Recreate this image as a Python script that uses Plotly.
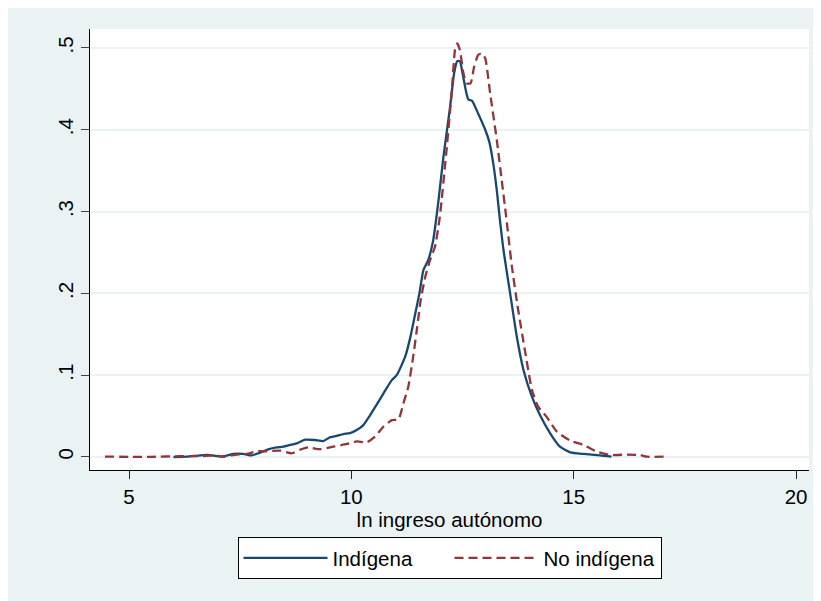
import plotly.graph_objects as go

# Kernel density estimates
x_ind = [6.0, 6.3, 6.67, 6.82, 7.08, 7.35, 7.57, 7.76, 7.95, 8.13, 8.32, 8.47, 8.62, 8.77, 8.96,
         9.18, 9.37, 9.50, 9.67, 9.82, 9.97, 10.12, 10.27, 10.42, 10.61, 10.79, 10.91, 11.02,
         11.21, 11.32, 11.43, 11.53, 11.62, 11.73, 11.84, 11.90, 11.96, 12.07, 12.22, 12.31,
         12.38, 12.44, 12.50, 12.58, 12.63, 12.71, 12.85, 13.01, 13.10, 13.19, 13.27, 13.34,
         13.42, 13.57, 13.72, 13.87, 14.06, 14.24, 14.47, 14.69, 14.92, 15.22, 15.59, 15.85]
y_ind = [0.0, 0.0005, 0.0024, 0.0024, 0.0004, 0.0037, 0.0037, 0.002, 0.0053, 0.0094, 0.0118,
         0.0126, 0.0147, 0.0167, 0.0212, 0.0208, 0.0195, 0.0235, 0.0257, 0.0281, 0.0293, 0.033,
         0.039, 0.051, 0.0676, 0.084, 0.094, 0.100, 0.1226, 0.145, 0.1736, 0.200, 0.2286, 0.241,
         0.265, 0.288, 0.314, 0.367, 0.428, 0.469, 0.484, 0.484, 0.469, 0.4466, 0.437, 0.4356,
         0.420, 0.400, 0.3855, 0.359, 0.326, 0.29, 0.253, 0.200, 0.147, 0.1064, 0.0737, 0.0513,
         0.029, 0.0126, 0.0057, 0.0037, 0.002, 0.0004]

x_noind = [4.46, 5.0, 5.5, 6.15, 6.6, 6.9, 7.12, 7.42, 7.65, 7.87, 8.10, 8.40, 8.66, 8.85, 9.03,
           9.29, 9.59, 9.90, 10.12, 10.35, 10.53, 10.72, 10.91, 11.06, 11.17, 11.28, 11.39,
           11.48, 11.56, 11.66, 11.77, 11.88, 11.98, 12.03, 12.14, 12.26, 12.33, 12.38, 12.44,
           12.52, 12.59, 12.68, 12.76, 12.85, 12.93, 13.01, 13.12, 13.27, 13.38, 13.48, 13.61,
           13.75, 13.90, 14.06, 14.20, 14.39, 14.62, 14.92, 15.22, 15.52, 15.82, 16.19, 16.49,
           16.64, 17.08]
y_noind = [0.0005, 0.0002, 0.0002, 0.001, 0.001, 0.002, 0.0004, 0.003, 0.0037, 0.007, 0.007,
           0.0077, 0.0045, 0.009, 0.0118, 0.0095, 0.0126, 0.0159, 0.019, 0.018, 0.0248, 0.037,
           0.045, 0.046, 0.0656, 0.086, 0.1226, 0.159, 0.192, 0.220, 0.241, 0.257, 0.290, 0.314,
           0.375, 0.4487, 0.4976, 0.5057, 0.4976, 0.469, 0.4568, 0.4568, 0.477, 0.4914, 0.4935,
           0.4874, 0.4446, 0.3875, 0.3386, 0.294, 0.2326, 0.180, 0.131, 0.082, 0.0615, 0.049,
           0.031, 0.020, 0.0147, 0.0065, 0.0024, 0.003, 0.0024, 0.0004, 0.0004]

x_ticks = [5, 10, 15, 20]
y_ticks = [0, 0.1, 0.2, 0.3, 0.4, 0.5]
y_tick_labels = ["0", ".1", ".2", ".3", ".4", ".5"]
series_names = ["Indígena", "No indígena"]

BG = "#EAF2F3"
NAVY = "#1A476F"
MAROON = "#90353B"
FONT = "Arial, Liberation Sans, sans-serif"
FS = 20.5

fig = go.Figure()
fig.add_trace(go.Scatter(x=x_ind, y=y_ind, mode="lines", name=series_names[0],
                         line=dict(color=NAVY, width=2.3, shape="spline", smoothing=0.5)))
fig.add_trace(go.Scatter(x=x_noind, y=y_noind, mode="lines", name=series_names[1],
                         line=dict(color=MAROON, width=2.3, dash="9px,5px",
                                   shape="spline", smoothing=0.5)))

fig.update_layout(
    width=813, height=593,
    margin=dict(l=82, r=12, t=21, b=131),
    paper_bgcolor=BG, plot_bgcolor="white",
    font=dict(family=FONT, size=FS, color="black"),
    showlegend=True,
    legend=dict(orientation="h", x=0.5, xanchor="center", y=-0.152, yanchor="top",
                bordercolor="black", borderwidth=1, bgcolor="white",
                font=dict(size=FS), itemwidth=84, entrywidth=112, entrywidthmode="pixels"),
)
fig.update_xaxes(range=[4.123, 20.29], tickvals=x_ticks, showgrid=False, zeroline=False,
                 showline=True, linecolor="black", linewidth=1, automargin=False,
                 ticks="outside", ticklen=8, tickcolor="#222", tickwidth=1,
                 ticklabelstandoff=0, tickfont=dict(size=FS),
                 title=dict(text="ln ingreso autónomo", font=dict(size=FS), standoff=0))
fig.update_yaxes(range=[-0.0159, 0.5232], tickvals=y_ticks, ticktext=y_tick_labels,
                 tickangle=-90, showgrid=True, gridcolor=BG, gridwidth=1.5, zeroline=False,
                 showline=True, linecolor="black", linewidth=1, automargin=False,
                 ticks="outside", ticklen=8, tickcolor="#444", tickwidth=1,
                 tickfont=dict(size=FS))

fig.write_html("out.html")
